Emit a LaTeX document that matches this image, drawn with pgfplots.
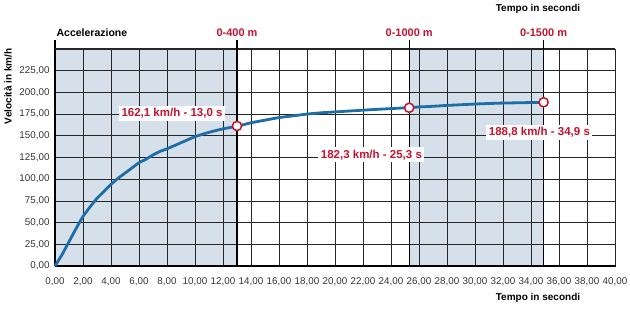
\documentclass[border=0pt]{standalone}
\usepackage{fontspec}
\setmainfont{Liberation Sans}
\usepackage{pgfplots}
\pgfplotsset{compat=1.18}
\definecolor{redlbl}{HTML}{C4122F}
\definecolor{curvecol}{HTML}{1F6DA6}
\definecolor{shadecol}{HTML}{D5E0EA}
\begin{document}
\begin{tikzpicture}
\begin{axis}[
  set layers,
  scale only axis, width=560pt, height=217pt,
  xmin=0, xmax=40, ymin=0, ymax=250,
  clip=false,
  axis line style={draw=none},
  xtick={0,2,...,40}, ytick={0,25,...,225},
  major tick length=0pt,
  grid=major, grid style={black!85, line width=0.75pt},
  tick label style={font=\fontsize{9.8}{11}\selectfont, text=black!80},
  xticklabel style={yshift=-8.5pt},
  yticklabel style={xshift=-2pt},
  /pgf/number format/fixed, /pgf/number format/fixed zerofill,
  /pgf/number format/precision=2, /pgf/number format/use comma,
  /pgf/number format/assume math mode=true,
]
% shaded areas
\addplot[draw=none, fill=shadecol, on layer=axis background, forget plot] coordinates {(0,0)(0,250)(13,250)(13,0)} --cycle;
\addplot[draw=none, fill=shadecol, on layer=axis background, forget plot] coordinates {(25.3,0)(25.3,250)(34.9,250)(34.9,0)} --cycle;
% frame lines
\addplot[black, line width=1.4pt, forget plot] coordinates {(0,0)(40.1,0)};
\addplot[black, line width=1.3pt, forget plot] coordinates {(0,0)(0,260)};
\addplot[black!85, line width=1.4pt, forget plot] coordinates {(0,250)(40,250)};
% marker lines
\addplot[black, line width=1.3pt, forget plot] coordinates {(13,0)(13,260)};
\addplot[black, line width=1.3pt, forget plot] coordinates {(25.3,0)(25.3,260)};
\addplot[black, line width=1.3pt, forget plot] coordinates {(34.9,0)(34.9,260)};
% curve
\addplot[curvecol, line width=2.8pt, smooth, tension=0.3] coordinates {
(0,0)(0.5,13)(1,28)(1.5,43)(2,57)(2.5,68)(3,78)(3.5,86)(4,94)(4.5,101)(5,107)(5.5,113)(6,119)(6.5,123)(7,128)(7.5,132)(8,135)(9,142)(10,149)(11,154)(12,158)(13,161)(14,165)(15,168)(16,171)(17,173)(18,175)(19,176.5)(20,177.5)(21,178.5)(22,179.5)(23,180.5)(24,181.3)(25.3,182.5)(26,183.2)(27,184)(28,185)(29,185.8)(30,186.6)(31,187.2)(32,187.7)(33,188)(34,188.3)(34.9,188.5)};
% markers
\addplot[only marks, mark=*, mark size=4.6pt, mark options={fill=white, draw=redlbl, line width=1.5pt}] coordinates {(13,161.3)(25.3,182.3)(34.9,188.6)};
% annotations
\node[fill=white, text=redlbl, font=\fontsize{11.5}{12}\selectfont\bfseries, inner sep=2.5pt] at (axis cs:8.36,176) {162,1 km/h - 13,0 s};
\node[fill=white, text=redlbl, font=\fontsize{11.5}{12}\selectfont\bfseries, inner sep=2.5pt] at (axis cs:22.6,128) {182,3 km/h - 25,3 s};
\node[fill=white, text=redlbl, font=\fontsize{11.5}{12}\selectfont\bfseries, inner sep=2.5pt] at (axis cs:34.6,154) {188,8 km/h - 34,9 s};
% titles
\node[anchor=west, font=\fontsize{10.5}{12}\selectfont\bfseries, inner sep=0pt] at (axis cs:0.1,268.5) {Accelerazione};
\node[text=redlbl, font=\fontsize{11}{12}\selectfont\bfseries, inner sep=0pt] at (axis cs:13,268.5) {0-400 m};
\node[text=redlbl, font=\fontsize{11}{12}\selectfont\bfseries, inner sep=0pt] at (axis cs:25.3,268.5) {0-1000 m};
\node[text=redlbl, font=\fontsize{11}{12}\selectfont\bfseries, inner sep=0pt] at (axis cs:34.9,268.5) {0-1500 m};
\node[font=\fontsize{10}{12}\selectfont\bfseries, inner sep=0pt] at (axis cs:34.5,296) {Tempo in secondi};
\node[font=\fontsize{10}{12}\selectfont\bfseries, inner sep=0pt] at (axis cs:34.5,-37) {Tempo in secondi};
\node[font=\fontsize{10}{12}\selectfont\bfseries, inner sep=0pt, rotate=90] at (axis cs:-3.36,207) {Velocità in km/h};
\end{axis}
\path (current axis.south west) ++(-55pt,-43pt) coordinate (bbA);
\path (current axis.north east) ++(15pt,49pt) coordinate (bbB);
\pgfresetboundingbox
\path (bbA) rectangle (bbB);
\end{tikzpicture}
\end{document}
